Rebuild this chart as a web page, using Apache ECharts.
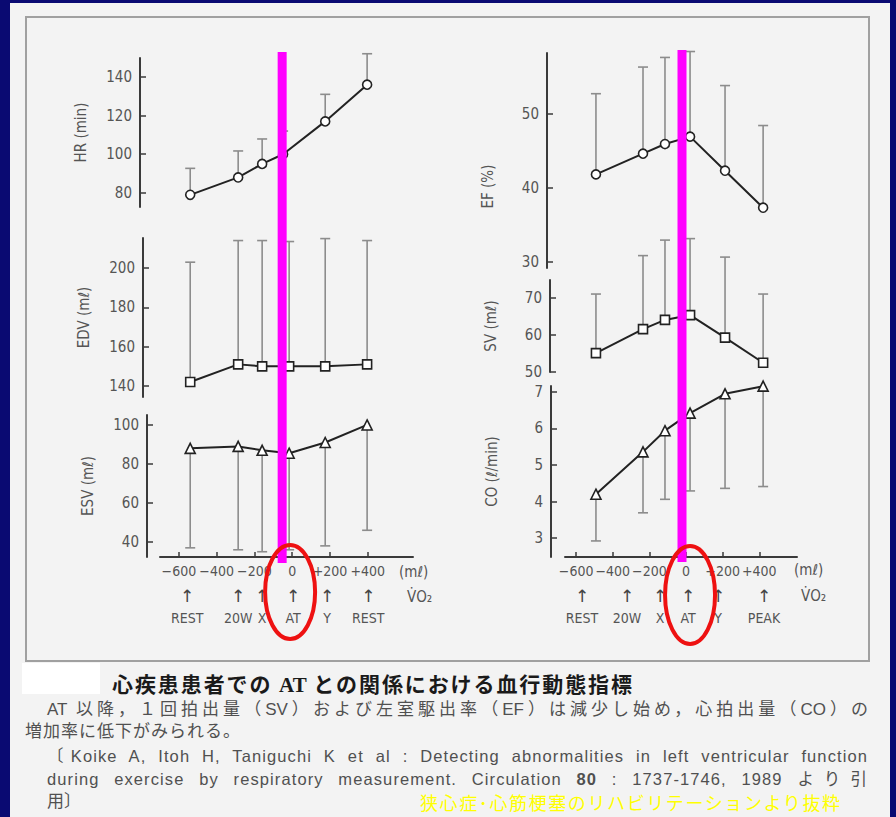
<!DOCTYPE html>
<html><head><meta charset="utf-8">
<script src="https://cdn.jsdelivr.net/npm/echarts@6/dist/echarts.min.js"></script>
<style>
html,body{margin:0;padding:0;background:#0a0a72;}
#wrap{position:relative;width:896px;height:817px;overflow:hidden;background:#0a0a72;}
#paper{position:absolute;left:10px;top:3px;width:880px;height:814px;background:#f3f3f3;}
#box{position:absolute;left:25px;top:16px;width:841px;height:642px;border:2px solid #a0a0a0;}
#whiteTag{position:absolute;left:22px;top:663px;width:78px;height:31px;background:#fff;}
#chart{position:absolute;left:0;top:0;width:896px;height:817px;}
.cap{position:absolute;white-space:nowrap;font-family:'Liberation Sans','Noto Sans CJK JP',sans-serif;color:#505050;font-size:16px;line-height:22px;height:22px;}
.just{text-align:justify;text-align-last:justify;}
.en{font-size:16.5px;letter-spacing:1.1px;}
</style></head>
<body><div id="wrap">
<div id="paper"></div><div id="box"></div><div id="whiteTag"></div>
<div class="cap just" style="left:112px;top:672px;width:520px;font-size:21px;font-weight:bold;color:#1a1a1a;font-family:'Noto Sans CJK JP',sans-serif;">心疾患患者での <span style="font-family:'Liberation Serif',serif;">AT</span> との関係における血行動態指標</div>
<div class="cap just" style="left:47px;top:699px;width:821px;font-size:17px;">AT 以降，１回拍出量（SV）および左室駆出率（EF）は減少し始め，心拍出量（CO）の</div>
<div class="cap" style="left:25px;top:721px;font-size:17px;letter-spacing:1px;">増加率に低下がみられる。</div>
<div class="cap just en" style="left:47px;top:745px;width:821px;">〔Koike A, Itoh H, Taniguchi K et al : Detecting abnormalities in left ventricular function</div>
<div class="cap just en" style="left:47px;top:768px;width:821px;">during exercise by respiratory measurement. Circulation <b>80</b> : 1737-1746, 1989 より引</div>
<div class="cap" style="left:47px;top:791px;font-size:17px;">用〕</div>
<div class="cap just" style="left:420px;top:791px;width:420px;font-size:18px;color:#ffff00;font-family:'Noto Sans CJK JP',sans-serif;">狭心症･心筋梗塞のリハビリテーションより抜粋</div>
<div id="chart"></div>
</div>
<script>
// ---- data ----
const xLeft  = [-540, -286, -159, -16, 175, 397];
const hrX    = [-540, -286, -159, -48, 175, 397];
const xRight = [-492, -235, -115, 22, 213, 421];
const hr      = [79, 88, 95, 100, 117, 136];
const hrUpper = [92.7, 101.7, 107.9, 112, 131, 152];
const edv      = [142, 151, 150, 150, 150, 151];
const edvUpper = [203, 214, 214, 213.5, 215, 214];
const esv      = [88, 89, 87, 85.5, 91, 100];
const esvLower = [37, 36, 35, 36, 38, 46];
const ef      = [41.8, 44.6, 45.9, 46.9, 42.3, 37.3];
const efUpper = [52.7, 56.3, 57.6, 58.4, 53.8, 48.4];
const sv      = [55.1, 61.6, 64.1, 65.4, 59.3, 52.5];
const svUpper = [71.1, 81.5, 85.7, 86.1, 81.1, 71.1];
const co      = [4.2, 5.36, 5.94, 6.42, 6.95, 7.16];
const coLower = [2.92, 3.69, 4.06, 4.29, 4.36, 4.41];
const xTicks   = [-600, -400, -200, 0, 200, 400];
const hrTicks  = [80, 100, 120, 140];
const edvTicks = [140, 160, 180, 200];
const esvTicks = [40, 60, 80, 100];
const efTicks  = [30, 40, 50];
const svTicks  = [50, 60, 70];
const coTicks  = [3, 4, 5, 6, 7];
const stagesLeft  = ['REST', '20W', 'X', 'AT', 'Y', 'REST'];
const stagesRight = ['REST', '20W', 'X', 'AT', 'Y', 'PEAK'];
const stageXLeft  = [-556, -286, -159, 5, 185, 403];
const stageXRight = [-568, -322, -142, 11, 175, 426];
const atLeft = -53, atRight = -22;

// ---- layout ----
const FONT = "'Liberation Sans Narrow','DejaVu Sans Condensed','Liberation Sans',sans-serif";
const AX = '#3a3a3a';
const LX = {min: -700, max: 640}, RX = {min: -661, max: 606};
const grids = [
  {left: 160, top: 58,  width: 253, height: 149},
  {left: 160, top: 238, width: 253, height: 159},
  {left: 160, top: 415, width: 253, height: 142},
  {left: 565, top: 53,  width: 232, height: 215},
  {left: 565, top: 280, width: 232, height: 92},
  {left: 565, top: 386, width: 232, height: 171}
];

function fmtX(v) { return v > 0 ? '+' + v : (v < 0 ? '\u2212' + (-v) : '0'); }
function xAx(gi, r, show) {
  return {type: 'value', gridIndex: gi, min: r.min, max: r.max, position: 'bottom', show: show,
    splitLine: {show: false},
    axisLine: {show: true, onZero: false, lineStyle: {color: AX, width: 2}},
    axisTick: {show: true, inside: true, length: 5, customValues: xTicks, lineStyle: {color: AX, width: 1.5}},
    axisLabel: {customValues: xTicks, formatter: fmtX, margin: 7, color: '#555', fontSize: 14, fontFamily: FONT}};
}
function stageAx(gi, r, xs, names) {
  return {type: 'value', gridIndex: gi, min: r.min, max: r.max, position: 'bottom',
    splitLine: {show: false}, axisLine: {show: false, onZero: false}, axisTick: {show: false},
    axisLabel: {customValues: xs, margin: 28, showMinLabel: true, showMaxLabel: true,
      formatter: v => '{a|\u2191}\n{b|' + names[xs.indexOf(v)] + '}',
      rich: {a: {fontSize: 17, lineHeight: 22, color: '#444', fontFamily: 'DejaVu Sans'},
             b: {fontSize: 14, lineHeight: 22, color: '#555', fontFamily: FONT}}}};
}
function yAx(gi, min, max, ticks, name, offset, pad) {
  return {type: 'value', gridIndex: gi, min, max, offset, position: 'left', splitLine: {show: false},
    axisLine: {show: true, onZero: false, lineStyle: {color: AX, width: 2}},
    axisTick: {show: true, inside: true, length: 6, customValues: ticks, lineStyle: {color: AX, width: 1.5}},
    axisLabel: {customValues: ticks, margin: 8, color: '#555', fontSize: 15, fontFamily: FONT},
    name, nameLocation: 'middle', nameGap: 52, nameRotate: 90,
    nameTextStyle: {color: '#555', fontSize: 15, fontFamily: FONT, padding: pad || 0}};
}
function errRender(params, api) {
  const x = api.value(0), v = api.value(1), e = api.value(2);
  const p0 = api.coord([x, v]), p1 = api.coord([x, e]);
  const st = {stroke: '#8c8c8c', lineWidth: 1.6};
  return {type: 'group', children: [
    {type: 'line', shape: {x1: p0[0], y1: p0[1], x2: p1[0], y2: p1[1]}, style: st},
    {type: 'line', shape: {x1: p1[0] - 5, y1: p1[1], x2: p1[0] + 5, y2: p1[1]}, style: st}
  ]};
}
function errSeries(i, xs, vals, ends) {
  return {type: 'custom', xAxisIndex: i, yAxisIndex: i, clip: false, z: 1,
    renderItem: errRender, encode: {x: 0, y: 1},
    data: xs.map((x, k) => [x, vals[k], ends[k]])};
}
function lineSeries(i, xs, vals, symbol) {
  return {type: 'line', xAxisIndex: i, yAxisIndex: i, symbol, symbolSize: symbol === 'triangle' ? 10 : 9,
    showAllSymbol: true, z: 3, clip: false,
    itemStyle: {color: '#fff', borderColor: '#222', borderWidth: 1.6},
    lineStyle: {color: '#222', width: 2},
    data: xs.map((x, k) => [x, vals[k]])};
}

const chart = echarts.init(document.getElementById('chart'), null, {renderer: 'svg'});
chart.setOption({
  backgroundColor: 'transparent',
  animation: false,
  grid: grids,
  xAxis: [xAx(0, LX, false), xAx(1, LX, false), xAx(2, LX, true),
          xAx(3, RX, false), xAx(4, RX, false), xAx(5, RX, true),
          stageAx(2, LX, stageXLeft, stagesLeft), stageAx(5, RX, stageXRight, stagesRight)],
  yAxis: [yAx(0, 72.7, 149.8, hrTicks, 'HR (min)', 20),
          yAx(1, 134.4, 215.3, edvTicks, 'EDV (m\u2113)', 17),
          yAx(2, 32.3, 105.1, esvTicks, 'ESV (m\u2113)', 13),
          yAx(3, 29.15, 58.2, efTicks, 'EF (%)', 18, [0, 52, 0, 0]),
          yAx(4, 50, 74.9, svTicks, 'SV (m\u2113)', 15),
          yAx(5, 2.48, 7.164, coTicks, 'CO (\u2113/min)', 14)],
  series: [
    errSeries(0, hrX, hr, hrUpper), lineSeries(0, hrX, hr, 'circle'),
    errSeries(1, xLeft, edv, edvUpper), lineSeries(1, xLeft, edv, 'rect'),
    errSeries(2, xLeft, esv, esvLower), lineSeries(2, xLeft, esv, 'triangle'),
    errSeries(3, xRight, ef, efUpper), lineSeries(3, xRight, ef, 'circle'),
    errSeries(4, xRight, sv, svUpper), lineSeries(4, xRight, sv, 'rect'),
    errSeries(5, xRight, co, coLower), lineSeries(5, xRight, co, 'triangle')
  ]
});

const pxL = chart.convertToPixel({xAxisIndex: 0}, atLeft);
const pxR = chart.convertToPixel({xAxisIndex: 3}, atRight);
const elL = chart.convertToPixel({xAxisIndex: 6}, stageXLeft[3]);
const elR = chart.convertToPixel({xAxisIndex: 7}, stageXRight[3]);
const tStyle = {fill: '#555', font: '15px ' + FONT};
chart.setOption({graphic: [
  {type: 'rect', z: 100, shape: {x: pxL - 4.5, y: 52, width: 9, height: 511}, style: {fill: '#ff00ff'}},
  {type: 'rect', z: 100, shape: {x: pxR - 4.5, y: 50, width: 9, height: 512}, style: {fill: '#ff00ff'}},
  {type: 'ellipse', z: 101, shape: {cx: elL - 3, cy: 592, rx: 25, ry: 47}, style: {fill: 'none', stroke: '#ee1111', lineWidth: 4}},
  {type: 'ellipse', z: 101, shape: {cx: elR + 2, cy: 595, rx: 25, ry: 49}, style: {fill: 'none', stroke: '#ee1111', lineWidth: 4}},
  {type: 'text', x: 399, y: 564, style: Object.assign({text: '(m\u2113)'}, tStyle)},
  {type: 'text', x: 407, y: 589, style: Object.assign({text: 'V\u0307O\u2082'}, tStyle)},
  {type: 'text', x: 794, y: 562, style: Object.assign({text: '(m\u2113)'}, tStyle)},
  {type: 'text', x: 801, y: 588, style: Object.assign({text: 'V\u0307O\u2082'}, tStyle)}
]});
</script>
</body></html>
